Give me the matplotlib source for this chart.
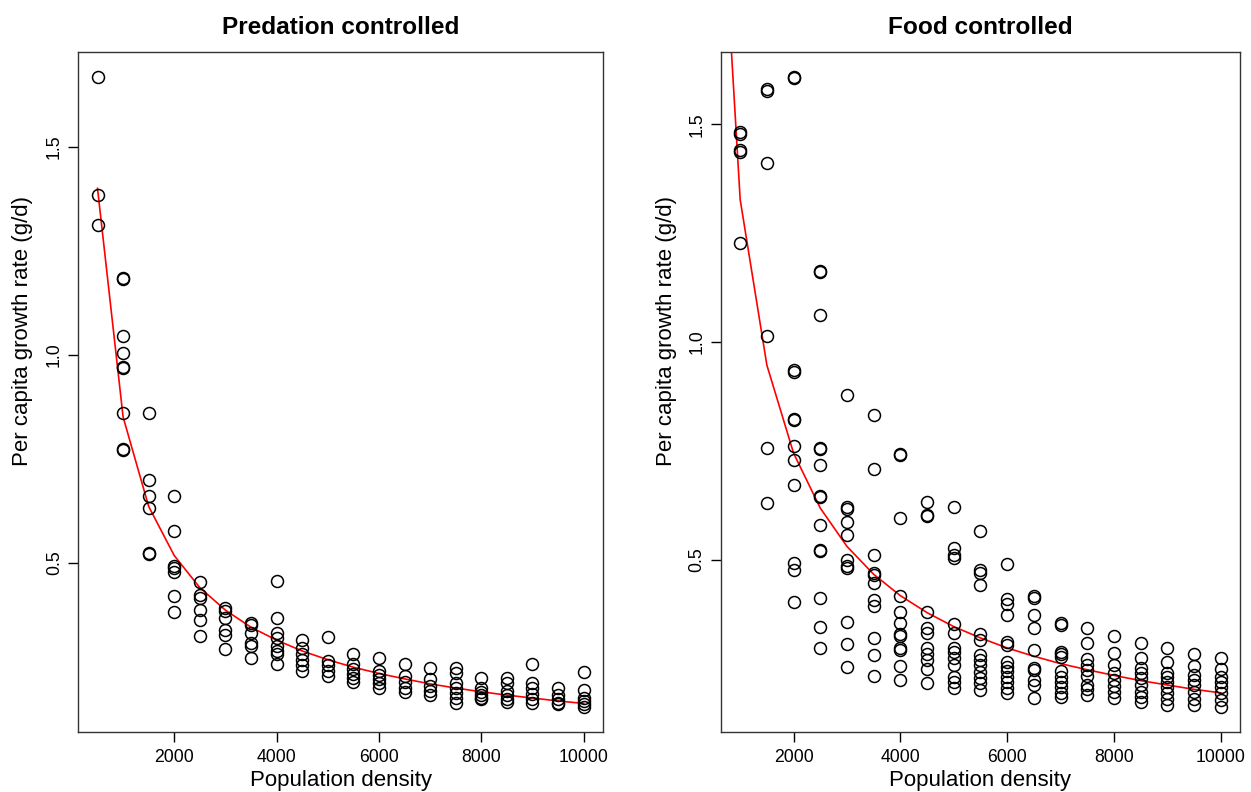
import matplotlib
matplotlib.use("Agg")
import matplotlib.pyplot as plt
import numpy as np

plt.rcParams["font.family"] = ["Liberation Sans", "DejaVu Sans"]

# ---- predation controlled ----
pred_dens = [500, 1000, 1500, 2000, 2500, 3000, 3500, 4000, 4500, 5000,
             5500, 6000, 6500, 7000, 7500, 8000, 8500, 9000, 9500, 10000]
pred_rate = [
    [1.667, 1.383, 1.311],
    [1.184, 1.182, 1.045, 1.005, 0.971, 0.969, 0.861, 0.773, 0.771],
    [0.861, 0.699, 0.661, 0.632, 0.525, 0.523],
    [0.661, 0.578, 0.494, 0.488, 0.478, 0.421, 0.382],
    [0.455, 0.424, 0.416, 0.388, 0.364, 0.326],
    [0.392, 0.384, 0.367, 0.340, 0.328, 0.294],
    [0.356, 0.352, 0.331, 0.309, 0.302, 0.273],
    [0.458, 0.368, 0.331, 0.319, 0.301, 0.289, 0.282, 0.257],
    [0.315, 0.297, 0.282, 0.267, 0.255, 0.240],
    [0.322, 0.265, 0.255, 0.242, 0.229],
    [0.282, 0.257, 0.245, 0.233, 0.224, 0.215],
    [0.271, 0.242, 0.231, 0.221, 0.211, 0.201],
    [0.257, 0.229, 0.214, 0.201, 0.191],
    [0.248, 0.221, 0.206, 0.194, 0.184],
    [0.249, 0.237, 0.211, 0.199, 0.189, 0.177, 0.163],
    [0.224, 0.199, 0.190, 0.184, 0.177, 0.173],
    [0.225, 0.211, 0.194, 0.184, 0.174, 0.167],
    [0.257, 0.211, 0.199, 0.185, 0.174, 0.163],
    [0.201, 0.184, 0.174, 0.165, 0.161],
    [0.239, 0.195, 0.177, 0.169, 0.161, 0.155],
]
pred_fit = [1.400, 0.851, 0.636, 0.518, 0.441, 0.387, 0.346, 0.315, 0.289, 0.268,
            0.250, 0.235, 0.222, 0.210, 0.200, 0.191, 0.183, 0.176, 0.169, 0.163]

# ---- food controlled ----
food_dens = [1000, 1500, 2000, 2500, 3000, 3500, 4000, 4500, 5000,
             5500, 6000, 6500, 7000, 7500, 8000, 8500, 9000, 9500, 10000]
food_rate = [
    [1.482, 1.478, 1.440, 1.436, 1.227],
    [1.580, 1.577, 1.411, 1.014, 0.757, 0.630],
    [1.608, 1.605, 0.935, 0.932, 0.824, 0.821, 0.762, 0.730, 0.672, 0.492, 0.477, 0.404],
    [1.164, 1.161, 1.061, 0.757, 0.754, 0.718, 0.647, 0.645, 0.580, 0.523, 0.521,
     0.412, 0.345, 0.299],
    [0.879, 0.621, 0.618, 0.586, 0.557, 0.500, 0.486, 0.481, 0.357, 0.306, 0.255],
    [0.833, 0.709, 0.511, 0.469, 0.466, 0.446, 0.408, 0.394, 0.320, 0.282, 0.233],
    [0.743, 0.740, 0.596, 0.417, 0.381, 0.356, 0.329, 0.326, 0.297, 0.294, 0.257, 0.224],
    [0.632, 0.603, 0.600, 0.381, 0.344, 0.332, 0.297, 0.284, 0.270, 0.249, 0.218],
    [0.622, 0.527, 0.511, 0.504, 0.354, 0.332, 0.297, 0.289, 0.274, 0.259, 0.232,
     0.220, 0.205],
    [0.567, 0.477, 0.471, 0.442, 0.329, 0.316, 0.282, 0.270, 0.259, 0.243, 0.228,
     0.217, 0.201],
    [0.491, 0.410, 0.400, 0.374, 0.312, 0.305, 0.265, 0.255, 0.245, 0.232, 0.220,
     0.207, 0.194],
    [0.417, 0.412, 0.374, 0.343, 0.293, 0.252, 0.247, 0.224, 0.213, 0.184],
    [0.356, 0.351, 0.289, 0.284, 0.278, 0.245, 0.232, 0.220, 0.209, 0.194, 0.186],
    [0.343, 0.310, 0.272, 0.259, 0.247, 0.233, 0.213, 0.203, 0.190],
    [0.325, 0.287, 0.259, 0.240, 0.224, 0.210, 0.197, 0.184],
    [0.310, 0.274, 0.251, 0.240, 0.228, 0.213, 0.197, 0.186, 0.174],
    [0.297, 0.265, 0.241, 0.232, 0.220, 0.209, 0.194, 0.180, 0.167],
    [0.284, 0.256, 0.236, 0.224, 0.213, 0.197, 0.180, 0.167],
    [0.276, 0.249, 0.232, 0.220, 0.209, 0.195, 0.178, 0.163],
]
food_fit_dens = pred_dens
food_fit = [2.364, 1.327, 0.947, 0.745, 0.619, 0.531, 0.467, 0.418, 0.379, 0.347,
            0.321, 0.298, 0.279, 0.262, 0.248, 0.235, 0.223, 0.213, 0.203, 0.195]


def rlim(v):
    lo, hi = min(v), max(v)
    d = 0.04 * (hi - lo)
    return lo - d, hi + d


def panel(ax, dens, rates, fit_x, fit_y, title):
    xs = np.concatenate([[d] * len(r) for d, r in zip(dens, rates)])
    ys = np.concatenate(rates)
    ax.plot(xs, ys, "o", ms=8.6, mfc="none", mec="black", mew=1.1, zorder=3)
    ax.plot(fit_x, fit_y, color="red", lw=1.2, zorder=2)
    ax.set_xlim(rlim(xs))
    ax.set_ylim(rlim(ys))
    ax.set_xticks([2000, 4000, 6000, 8000, 10000])
    ax.set_yticks([0.5, 1.0, 1.5])
    ax.set_yticklabels(["0.5", "1.0", "1.5"], rotation=90, va="center")
    ax.tick_params(direction="out", length=7, width=1, labelsize=12.7, pad=5)
    ax.tick_params(axis="y", pad=4)
    for sp in ax.spines.values():
        sp.set_linewidth(1.0)
        sp.set_color("#333333")
    ax.set_title(title, fontsize=17.6, fontweight="bold", pad=13)
    ax.set_xlabel("Population density", fontsize=16)
    ax.set_ylabel("Per capita growth rate (g/d)", fontsize=16)
    ax.xaxis.set_label_coords(0.5, -0.056)
    ax.yaxis.set_label_coords(-0.085, 0.59)


fig = plt.figure(figsize=(12.51, 7.92), dpi=100)
ax1 = fig.add_axes([0.0624, 0.0758, 0.4197, 0.8586])
ax2 = fig.add_axes([0.5763, 0.0758, 0.4149, 0.8586])
panel(ax1, pred_dens, pred_rate, pred_dens, pred_fit, "Predation controlled")
panel(ax2, food_dens, food_rate, food_fit_dens, food_fit, "Food controlled")
fig.savefig("out.png", dpi=100, facecolor="white")
